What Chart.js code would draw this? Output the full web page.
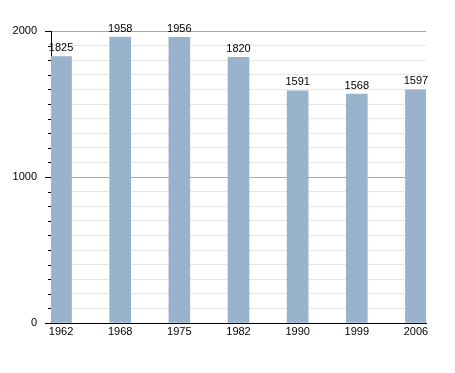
<!DOCTYPE html>
<html><head><meta charset="utf-8">
<script src="https://cdn.jsdelivr.net/npm/chart.js@4"></script>
<style>html,body{margin:0;padding:0;background:#fff}#wrap{width:455px;height:373px}</style>
</head><body><div id="wrap"><canvas id="c" width="455" height="373"></canvas></div>
<script>
const categories = ["1962","1968","1975","1982","1990","1999","2006"];
const populations = [1825,1958,1956,1820,1591,1568,1597];
const yTickLabels = [0,1000,2000];

const FONT = "'Liberation Sans', Arial, sans-serif";

const valueLabels = {
  id: 'valueLabels',
  afterDatasetsDraw(chart) {
    const ctx = chart.ctx;
    const meta = chart.getDatasetMeta(0);
    ctx.save();
    ctx.font = "11px " + FONT;
    ctx.fillStyle = '#000';
    ctx.textAlign = 'center';
    ctx.textBaseline = 'bottom';
    meta.data.forEach((bar, i) => {
      ctx.fillText(String(populations[i]), bar.x, bar.y - 3);
    });
    ctx.restore();
  }
};

const yTicks = {
  id: 'yTicks',
  afterDraw(chart) {
    const ctx = chart.ctx;
    const y = chart.scales.y;
    const left = chart.chartArea.left;
    ctx.save();
    ctx.strokeStyle = '#000';
    ctx.lineWidth = 1;
    for (let v = 0; v <= 2000; v += 100) {
      const py = Math.round(y.getPixelForValue(v)) + 0.5;
      const len = yTickLabels.includes(v) ? 6 : 3;
      ctx.beginPath();
      ctx.moveTo(left - len, py);
      ctx.lineTo(left, py);
      ctx.stroke();
    }
    ctx.restore();
  }
};

new Chart(document.getElementById('c'), {
  type: 'bar',
  data: {
    datasets: [{
      data: populations.map((v, i) => ({x: i, y: v})),
      backgroundColor: 'rgb(154,179,204)',
      barThickness: 21,
      borderWidth: 0
    }]
  },
  options: {
    responsive: false,
    animation: false,
    events: [],
    layout: {padding: {left: 0, top: 31, right: 29, bottom: 0}},
    plugins: {legend: {display: false}, tooltip: {enabled: false}},
    scales: {
      x: {
        type: 'linear',
        offset: false,
        min: -0.17,
        max: 6.17,
        afterBuildTicks: s => { s.ticks = categories.map((c, i) => ({value: i})); },
        afterFit: s => { s.height = 50; },
        ticks: {
          callback: v => categories[v],
          font: {family: FONT, size: 11},
          color: '#000',
          padding: 2,
          maxRotation: 0,
          autoSkip: false
        },
        grid: {display: false, offset: false, drawTicks: false, tickLength: 0},
        border: {color: '#000', width: 1}
      },
      y: {
        min: 0,
        max: 2000,
        afterFit: s => { s.width = 51; },
        ticks: {
          stepSize: 100,
          callback: v => yTickLabels.includes(v) ? String(v) : '',
          font: {family: FONT, size: 11},
          color: '#000',
          padding: 14,
          autoSkip: false
        },
        grid: {
          drawTicks: false,
          color: c => (c.tick && yTickLabels.includes(c.tick.value)) ? '#aaaaaa' : '#e6e6e6',
          lineWidth: 1
        },
        border: {color: '#000', width: 1}
      }
    }
  },
  plugins: [valueLabels, yTicks]
});
</script>
</body></html>
